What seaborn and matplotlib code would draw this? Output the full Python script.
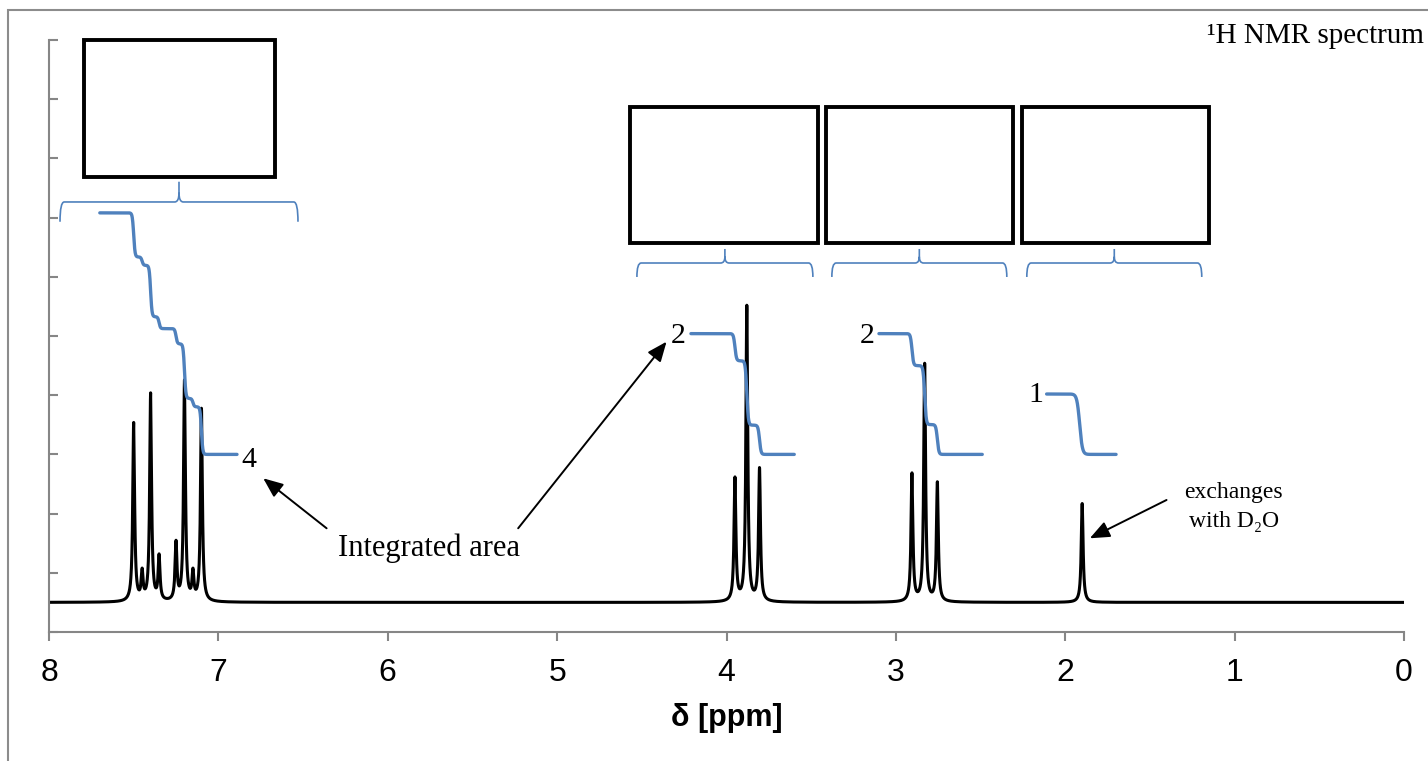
import numpy as np
import pandas as pd
import matplotlib
matplotlib.use("Agg")
import matplotlib.pyplot as plt
import seaborn as sns
from matplotlib.patches import Rectangle, PathPatch
from matplotlib.path import Path

# ---------------- data ----------------
peak_shifts = [7.50, 7.45, 7.40, 7.35, 7.25, 7.20, 7.15, 7.10,
               3.95, 3.88, 3.805,
               2.905, 2.83, 2.755,
               1.90]
peak_heights = [3.04, 0.58, 3.54, 0.82, 1.05, 3.76, 0.58, 3.28,
                2.12, 5.02, 2.28,
                2.19, 4.04, 2.04,
                1.67]
peak_group = [0, 0, 0, 0, 0, 0, 0, 0, 1, 1, 1, 2, 2, 2, 3]
baseline = 0.5
linewidth_ppm = 0.0065

integral_start = [7.70, 4.21, 3.10, 2.11]
integral_end = [6.89, 3.60, 2.49, 1.70]
integral_nH = [4, 2, 2, 1]
integral_labels = ["4", "2", "2", "1"]
integral_base = 3.0
integral_per_H = 1.02
integral_step_width = [0.008, 0.009, 0.009, 0.016]
integral_step_shift = [0.0, 0.0, 0.0, 0.015]

box_ranges = [(7.793, 6.666), (4.570, 3.460), (3.413, 2.309), (2.256, 1.152)]
box_yrange = [(7.686, 10.0), (6.571, 8.868), (6.571, 8.868), (6.571, 8.868)]
brace_ranges = [(7.935, 6.530), (4.529, 3.490), (3.378, 2.345), (2.227, 1.194)]
brace_y = [(6.93, 7.264, 7.606), (5.997, 6.233, 6.47), (5.997, 6.233, 6.47), (5.997, 6.233, 6.47)]

x_ticks = [8, 7, 6, 5, 4, 3, 2, 1, 0]

# ---------------- style ----------------
sns.set_style("white")
plt.rcParams["font.family"] = ["Liberation Sans", "DejaVu Sans"]
plt.rcParams["text.color"] = "black"
plt.rcParams["axes.labelcolor"] = "black"
SERIF = ["Liberation Serif", "DejaVu Serif"]
BLUE = "#4F81BD"
GREY = "#868686"

W, H = 1428, 761
fig = plt.figure(figsize=(W / 100, H / 100), dpi=100)
ax = fig.add_axes([49 / W, (H - 632) / H, (1404 - 49) / W, (632 - 40) / H])

# outer frame
fig.add_artist(Rectangle((8 / W, -0.2), 2.0, (H - 10) / H + 0.2, transform=fig.transFigure,
                         fill=False, edgecolor="#8c8c8c", lw=1.5))

# ---------------- spectrum ----------------
shifts = np.array(peak_shifts)
heights = np.array(peak_heights)
g = linewidth_ppm
L = g**2 / ((shifts[:, None] - shifts[None, :])**2 + g**2)
amps = np.linalg.solve(L, heights)

ppm = np.linspace(0, 8, 20001)
spec = baseline + (amps[None, :] * g**2 / ((ppm[:, None] - shifts[None, :])**2 + g**2)).sum(axis=1)
df = pd.DataFrame({"ppm": ppm, "I": spec})
sns.lineplot(data=df, x="ppm", y="I", ax=ax, color="black", lw=2.2, sort=False, estimator=None)

# ---------------- integrals ----------------
groups = np.array(peak_group)
for k in range(len(integral_start)):
    xs = np.linspace(integral_start[k], integral_end[k], 800)
    sel = groups == k
    w = heights[sel] / heights[sel].sum()
    centers = shifts[sel] + integral_step_shift[k]
    steps = 0.5 * (1 + np.tanh((centers[None, :] - xs[:, None]) / integral_step_width[k]))
    frac = (steps * w[None, :]).sum(axis=1)
    ys = integral_base + integral_per_H * integral_nH[k] * (1 - frac)
    sns.lineplot(x=xs, y=ys, ax=ax, color=BLUE, lw=2.4, sort=False, estimator=None,
                 solid_capstyle="round")

# labels of integrals
ax.text(6.862, 2.79, integral_labels[0], ha="left", va="baseline", fontsize=21.5, family=SERIF)
ax.text(4.240, 4.887, integral_labels[1], ha="right", va="baseline", fontsize=21.5, family=SERIF)
ax.text(3.124, 4.887, integral_labels[2], ha="right", va="baseline", fontsize=21.5, family=SERIF)
ax.text(2.130, 3.88, integral_labels[3], ha="right", va="baseline", fontsize=21.5, family=SERIF)

# ---------------- boxes & braces ----------------
for (xa, xb), (ya, yb) in zip(box_ranges, box_yrange):
    ax.add_patch(Rectangle((min(xa, xb), ya), abs(xa - xb), yb - ya, fill=False,
                           edgecolor="black", lw=2.8, joinstyle="miter", clip_on=False))

for (xl, xr), (yb, yl, yc) in zip(brace_ranges, brace_y):
    xc = 0.5 * (xl + xr)
    r = 0.025
    dy = (yc - yl) * 0.45
    verts = [(xl, yb), (xl, yl), (xl - r, yl),
             (xc + r, yl),
             (xc, yl), (xc, yl + dy),
             (xc, yc),
             (xc, yl + dy),
             (xc, yl), (xc - r, yl),
             (xr + r, yl),
             (xr, yl), (xr, yb)]
    codes = [Path.MOVETO, Path.CURVE3, Path.CURVE3,
             Path.LINETO,
             Path.CURVE3, Path.CURVE3,
             Path.LINETO,
             Path.MOVETO,
             Path.CURVE3, Path.CURVE3,
             Path.LINETO,
             Path.CURVE3, Path.CURVE3]
    ax.add_patch(PathPatch(Path(verts, codes), fill=False, edgecolor=BLUE, lw=1.2, clip_on=False))

# ---------------- annotations ----------------
arrow = dict(arrowstyle="-|>,head_length=0.6,head_width=0.25", color="black", lw=1.4,
             mutation_scale=20, shrinkA=0, shrinkB=0)
ax.annotate("", xy=(6.735, 2.596), xytext=(6.361, 1.752), arrowprops=arrow)
ax.annotate("", xy=(4.354, 4.904), xytext=(5.230, 1.752), arrowprops=arrow)
ax.annotate("", xy=(1.855, 1.583), xytext=(1.402, 2.23), arrowprops=arrow)
ax.text(5.757, 1.284, "Integrated area", ha="center", va="baseline", fontsize=22, family=SERIF)
ax.text(1.005, 2.258, "exchanges", ha="center", va="baseline", fontsize=17, family=SERIF)
ax.text(1.005, 1.769, "with D\u2082O", ha="center", va="baseline", fontsize=17, family=SERIF)
fig.text(1424 / W, (H - 43.3) / H, "\u00b9H NMR spectrum", ha="right", va="baseline",
         fontsize=21, family=SERIF)

# ---------------- axes ----------------
ax.set_xlim(8, 0)
ax.set_ylim(0, 10)
ax.set_xticks(x_ticks)
ax.set_xticklabels([str(t) for t in x_ticks])
ax.set_yticks(range(0, 11))
ax.tick_params(axis="x", which="major", bottom=True, direction="out", length=6.5, width=1.5,
               color=GREY, labelsize=23, pad=12, labelcolor="black")
ax.tick_params(axis="y", which="major", left=True, direction="in", length=6.5, width=1.5,
               color=GREY, labelleft=False)
ax.set_ylabel("")
ax.set_xlabel("\u03b4 [ppm]", fontsize=22, fontweight="bold", color="black")
ax.xaxis.set_label_coords(0.5, (632 - 718) / 592)
ax.xaxis.label.set_va("center")
for s in ["top", "right"]:
    ax.spines[s].set_visible(False)
for s in ["left", "bottom"]:
    ax.spines[s].set_color(GREY)
    ax.spines[s].set_linewidth(1.5)
ax.patch.set_alpha(0)

fig.savefig("out.png", dpi=100)
